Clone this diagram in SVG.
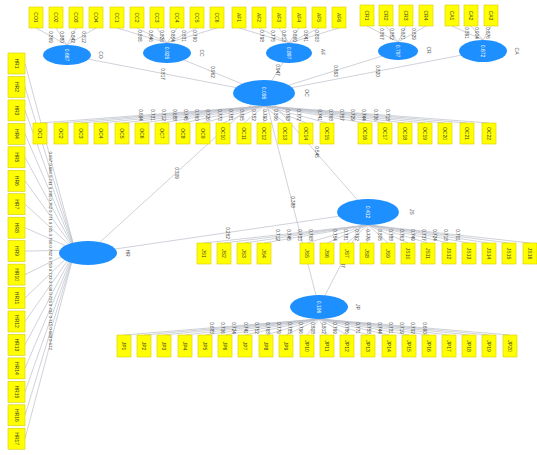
<svg xmlns="http://www.w3.org/2000/svg" width="537" height="455" viewBox="0 0 537 455">
<style>
  .ind{fill:#ffff00;stroke:#d9cc00;stroke-width:0.6}
  .lv{fill:#1e8fff}
  .it{font-family:"Liberation Sans",Arial,sans-serif;font-size:5px;fill:#3f3f30;text-anchor:middle;dominant-baseline:central}
  .lw{font-family:"Liberation Sans",Arial,sans-serif;font-size:5px;fill:#ffffff;text-anchor:middle;dominant-baseline:central}
  .nm{font-family:"Liberation Sans",Arial,sans-serif;font-size:5px;fill:#555555;text-anchor:middle;dominant-baseline:central}
  .ld{font-family:"Liberation Sans",Arial,sans-serif;font-size:4.6px;fill:#3a3a3a;text-anchor:middle;dominant-baseline:central}
  .ld .hr{font-size:4.3px}
  .cn line{stroke:#babec8;stroke-width:0.7;fill:none}
</style>
<rect width="537" height="455" fill="#ffffff"/>

<!-- connectors: outer loadings and path coefficients -->
<g id="connectors" class="cn">
  <!-- CO indicators -->
  <line x1="36" y1="28" x2="67" y2="45"/><line x1="56" y1="28" x2="67" y2="45"/><line x1="76" y1="28" x2="67" y2="45"/><line x1="96" y1="28" x2="67" y2="45"/>
  <!-- CC indicators -->
  <line x1="117" y1="28" x2="167" y2="43"/><line x1="137" y1="28" x2="167" y2="43"/><line x1="157" y1="28" x2="167" y2="43"/><line x1="177" y1="28" x2="167" y2="43"/><line x1="197" y1="28" x2="167" y2="43"/><line x1="217" y1="28" x2="167" y2="43"/>
  <!-- AF indicators -->
  <line x1="239" y1="28" x2="289" y2="43"/><line x1="259" y1="28" x2="289" y2="43"/><line x1="279" y1="28" x2="289" y2="43"/><line x1="299" y1="28" x2="289" y2="43"/><line x1="319" y1="28" x2="289" y2="43"/><line x1="339" y1="28" x2="289" y2="43"/>
  <!-- CR indicators -->
  <line x1="367" y1="26" x2="398" y2="42"/><line x1="386" y1="26" x2="398" y2="42"/><line x1="406" y1="26" x2="398" y2="42"/><line x1="426" y1="26" x2="398" y2="42"/>
  <!-- CA indicators -->
  <line x1="452" y1="26" x2="483" y2="40"/><line x1="471" y1="26" x2="483" y2="40"/><line x1="491" y1="26" x2="483" y2="40"/>
  <!-- OC indicators -->
  <line x1="40" y1="123" x2="264" y2="106"/><line x1="61" y1="123" x2="264" y2="106"/><line x1="81" y1="123" x2="264" y2="106"/><line x1="101" y1="123" x2="264" y2="106"/><line x1="122" y1="123" x2="264" y2="106"/><line x1="142" y1="123" x2="264" y2="106"/><line x1="162" y1="123" x2="264" y2="106"/><line x1="183" y1="123" x2="264" y2="106"/><line x1="203" y1="123" x2="264" y2="106"/><line x1="223" y1="123" x2="264" y2="106"/><line x1="244" y1="123" x2="264" y2="106"/><line x1="264" y1="123" x2="264" y2="106"/><line x1="285" y1="123" x2="264" y2="106"/><line x1="306" y1="123" x2="264" y2="106"/><line x1="327" y1="123" x2="264" y2="106"/><line x1="365" y1="123" x2="264" y2="106"/><line x1="385" y1="123" x2="264" y2="106"/><line x1="405" y1="123" x2="264" y2="106"/><line x1="425" y1="123" x2="264" y2="106"/><line x1="445" y1="123" x2="264" y2="106"/><line x1="467" y1="123" x2="264" y2="106"/><line x1="489" y1="123" x2="264" y2="106"/>
  <!-- HR indicators -->
  <line x1="25" y1="63.5" x2="75" y2="250"/><line x1="25" y1="87" x2="75" y2="250"/><line x1="25" y1="110.4" x2="75" y2="250"/><line x1="25" y1="133.9" x2="75" y2="250"/><line x1="25" y1="157.3" x2="75" y2="250"/><line x1="25" y1="180.8" x2="75" y2="250"/><line x1="25" y1="204.2" x2="75" y2="250"/><line x1="25" y1="227.7" x2="75" y2="250"/><line x1="25" y1="251.1" x2="75" y2="250"/><line x1="25" y1="274.6" x2="75" y2="250"/><line x1="25" y1="298" x2="75" y2="250"/><line x1="25" y1="321.5" x2="75" y2="250"/><line x1="25" y1="344.9" x2="75" y2="250"/><line x1="25" y1="368.4" x2="75" y2="250"/><line x1="25" y1="391.8" x2="75" y2="250"/><line x1="25" y1="415.3" x2="75" y2="250"/><line x1="25" y1="438.7" x2="75" y2="250"/>
  <!-- JS indicators -->
  <line x1="204" y1="243" x2="368" y2="225"/><line x1="224" y1="243" x2="368" y2="225"/><line x1="244" y1="243" x2="368" y2="225"/><line x1="264" y1="243" x2="368" y2="225"/><line x1="307" y1="243" x2="368" y2="225"/><line x1="327" y1="243" x2="368" y2="225"/><line x1="347" y1="243" x2="368" y2="225"/><line x1="367" y1="243" x2="368" y2="225"/><line x1="388" y1="243" x2="368" y2="225"/><line x1="408" y1="243" x2="368" y2="225"/><line x1="428" y1="243" x2="368" y2="225"/><line x1="449" y1="243" x2="368" y2="225"/><line x1="469" y1="243" x2="368" y2="225"/><line x1="489" y1="243" x2="368" y2="225"/><line x1="509" y1="243" x2="368" y2="225"/><line x1="530" y1="243" x2="368" y2="225"/>
  <!-- JP indicators -->
  <line x1="124" y1="335" x2="319" y2="319"/><line x1="144" y1="335" x2="319" y2="319"/><line x1="164" y1="335" x2="319" y2="319"/><line x1="185" y1="335" x2="319" y2="319"/><line x1="205" y1="335" x2="319" y2="319"/><line x1="225" y1="335" x2="319" y2="319"/><line x1="245" y1="335" x2="319" y2="319"/><line x1="266" y1="335" x2="319" y2="319"/><line x1="286" y1="335" x2="319" y2="319"/><line x1="307" y1="335" x2="319" y2="319"/><line x1="327" y1="335" x2="319" y2="319"/><line x1="347" y1="335" x2="319" y2="319"/><line x1="368" y1="335" x2="319" y2="319"/><line x1="389" y1="335" x2="319" y2="319"/><line x1="409" y1="335" x2="319" y2="319"/><line x1="429" y1="335" x2="319" y2="319"/><line x1="449" y1="335" x2="319" y2="319"/><line x1="469" y1="335" x2="319" y2="319"/><line x1="489" y1="335" x2="319" y2="319"/><line x1="510" y1="335" x2="319" y2="319"/>
  <!-- structural paths -->
  <line x1="67" y1="55" x2="264" y2="93"/><line x1="167" y1="53" x2="264" y2="93"/><line x1="289" y1="53" x2="264" y2="93"/><line x1="398" y1="51" x2="264" y2="93"/><line x1="483" y1="51" x2="264" y2="93"/>
  <line x1="88" y1="253" x2="264" y2="93"/><line x1="88" y1="253" x2="368" y2="212"/><line x1="264" y1="93" x2="368" y2="212"/><line x1="264" y1="93" x2="319" y2="307"/><line x1="368" y1="212" x2="319" y2="307"/>

  <!-- loading and coefficient values -->
  <g class="ld">
    <text transform="translate(50 37) rotate(90)">0.869</text><text transform="translate(61 37) rotate(90)">0.880</text><text transform="translate(72 37) rotate(90)">0.842</text><text transform="translate(83 37) rotate(90)">0.812</text>
    <text transform="translate(139.5 36) rotate(90)">0.805</text><text transform="translate(150.5 36) rotate(90)">0.846</text><text transform="translate(161.5 36) rotate(90)">0.826</text><text transform="translate(172.5 36) rotate(90)">0.854</text><text transform="translate(183.5 36) rotate(90)">0.831</text><text transform="translate(194.5 36) rotate(90)">0.790</text>
    <text transform="translate(261.5 36) rotate(90)">0.798</text><text transform="translate(272.5 36) rotate(90)">0.775</text><text transform="translate(283.5 36) rotate(90)">0.813</text><text transform="translate(294.5 36) rotate(90)">0.860</text><text transform="translate(305.5 36) rotate(90)">0.841</text><text transform="translate(316.5 36) rotate(90)">0.803</text>
    <text transform="translate(381 34) rotate(90)">0.867</text><text transform="translate(391.4 34) rotate(90)">0.852</text><text transform="translate(402.4 34) rotate(90)">0.871</text><text transform="translate(413.4 34) rotate(90)">0.829</text>
    <text transform="translate(466 33) rotate(90)">0.891</text><text transform="translate(476.6 33) rotate(90)">0.904</text><text transform="translate(487.4 33) rotate(90)">0.876</text>

    <text transform="translate(140.8 115) rotate(90)">0.694</text><text transform="translate(152.4 115) rotate(90)">0.731</text><text transform="translate(163.4 115) rotate(90)">0.712</text><text transform="translate(174.4 115) rotate(90)">0.688</text><text transform="translate(185.9 115) rotate(90)">0.745</text><text transform="translate(196.9 115) rotate(90)">0.760</text><text transform="translate(207.9 115) rotate(90)">0.726</text><text transform="translate(219.5 115) rotate(90)">0.773</text><text transform="translate(230.5 115) rotate(90)">0.781</text><text transform="translate(241.5 115) rotate(90)">0.765</text><text transform="translate(253 115) rotate(90)">0.752</text><text transform="translate(264 115) rotate(90)">0.790</text><text transform="translate(275.6 115) rotate(90)">0.806</text><text transform="translate(287.1 115) rotate(90)">0.798</text><text transform="translate(298.7 115) rotate(90)">0.772</text><text transform="translate(319.6 115) rotate(90)">0.741</text><text transform="translate(330.6 115) rotate(90)">0.768</text><text transform="translate(341.6 115) rotate(90)">0.757</text><text transform="translate(352.6 115) rotate(90)">0.729</text><text transform="translate(363.6 115) rotate(90)">0.744</text><text transform="translate(375.7 115) rotate(90)">0.736</text><text transform="translate(387.8 115) rotate(90)">0.718</text>

    <text class="hr" transform="translate(50 156.8) rotate(90)">0.657</text><text class="hr" transform="translate(50 168.5) rotate(90)">0.694</text><text class="hr" transform="translate(50 180.2) rotate(90)">0.711</text><text class="hr" transform="translate(50 192) rotate(90)">0.736</text><text class="hr" transform="translate(50 203.7) rotate(90)">0.752</text><text class="hr" transform="translate(50 215.4) rotate(90)">0.771</text><text class="hr" transform="translate(50 227.1) rotate(90)">0.745</text><text class="hr" transform="translate(50 238.9) rotate(90)">0.768</text><text class="hr" transform="translate(50 250.6) rotate(90)">0.782</text><text class="hr" transform="translate(50 262.3) rotate(90)">0.759</text><text class="hr" transform="translate(50 274) rotate(90)">0.733</text><text class="hr" transform="translate(50 285.8) rotate(90)">0.748</text><text class="hr" transform="translate(50 297.5) rotate(90)">0.726</text><text class="hr" transform="translate(50 309.2) rotate(90)">0.704</text><text class="hr" transform="translate(50 320.9) rotate(90)">0.715</text><text class="hr" transform="translate(50 332.7) rotate(90)">0.689</text><text class="hr" transform="translate(50 344.4) rotate(90)">0.672</text>

    <text transform="translate(277.8 235) rotate(90)">0.712</text><text transform="translate(288.8 235) rotate(90)">0.745</text><text transform="translate(299.8 235) rotate(90)">0.733</text><text transform="translate(310.8 235) rotate(90)">0.768</text><text transform="translate(334.5 235) rotate(90)">0.754</text><text transform="translate(345.5 235) rotate(90)">0.781</text><text transform="translate(356.5 235) rotate(90)">0.792</text><text transform="translate(367.5 235) rotate(90)">0.776</text><text transform="translate(379 235) rotate(90)">0.805</text><text transform="translate(390 235) rotate(90)">0.788</text><text transform="translate(401 235) rotate(90)">0.763</text><text transform="translate(412.5 235) rotate(90)">0.749</text><text transform="translate(423.5 235) rotate(90)">0.737</text><text transform="translate(434.5 235) rotate(90)">0.724</text><text transform="translate(445.5 235) rotate(90)">0.718</text><text transform="translate(457 235) rotate(90)">0.701</text>

    <text transform="translate(211.8 328) rotate(90)">0.683</text><text transform="translate(222.8 328) rotate(90)">0.706</text><text transform="translate(233.8 328) rotate(90)">0.724</text><text transform="translate(245.3 328) rotate(90)">0.741</text><text transform="translate(256.3 328) rotate(90)">0.752</text><text transform="translate(267.3 328) rotate(90)">0.768</text><text transform="translate(278.3 328) rotate(90)">0.779</text><text transform="translate(289.9 328) rotate(90)">0.785</text><text transform="translate(300.9 328) rotate(90)">0.796</text><text transform="translate(312.4 328) rotate(90)">0.808</text><text transform="translate(323.4 328) rotate(90)">0.812</text><text transform="translate(334.4 328) rotate(90)">0.799</text><text transform="translate(346 328) rotate(90)">0.786</text><text transform="translate(357.5 328) rotate(90)">0.771</text><text transform="translate(368.5 328) rotate(90)">0.758</text><text transform="translate(379.5 328) rotate(90)">0.744</text><text transform="translate(390.5 328) rotate(90)">0.731</text><text transform="translate(401.5 328) rotate(90)">0.719</text><text transform="translate(412.5 328) rotate(90)">0.702</text><text transform="translate(424 328) rotate(90)">0.690</text>

    <text transform="translate(162 74) rotate(90)">0.817</text><text transform="translate(212 72) rotate(90)">0.962</text><text transform="translate(277 70) rotate(90)">0.947</text><text transform="translate(335 71) rotate(90)">0.893</text><text transform="translate(377 71) rotate(90)">0.820</text>
    <text transform="translate(176 173) rotate(90)">0.309</text><text transform="translate(227 233) rotate(90)">0.262</text><text transform="translate(316 152) rotate(90)">0.545</text><text transform="translate(292 202) rotate(90)">0.388</text><text transform="translate(342 262) rotate(90)">0.047</text>
  </g>
</g>

<!-- latent variables -->
<g id="CO"><ellipse class="lv" cx="67" cy="55" rx="24" ry="10"/><text class="lw" transform="translate(67 55) rotate(90)">0.667</text><text class="nm" transform="translate(101 55) rotate(90)">CO</text></g>
<g id="CC"><ellipse class="lv" cx="167" cy="53" rx="24" ry="10"/><text class="lw" transform="translate(167 53) rotate(90)">0.925</text><text class="nm" transform="translate(202 53) rotate(90)">CC</text></g>
<g id="AF"><ellipse class="lv" cx="289" cy="53" rx="23" ry="10"/><text class="lw" transform="translate(289 53) rotate(90)">0.897</text><text class="nm" transform="translate(323 52) rotate(90)">AF</text></g>
<g id="CR"><ellipse class="lv" cx="398" cy="51" rx="20" ry="9"/><text class="lw" transform="translate(398 51) rotate(90)">0.797</text><text class="nm" transform="translate(429 50) rotate(90)">CR</text></g>
<g id="CA"><ellipse class="lv" cx="483" cy="51" rx="24" ry="11"/><text class="lw" transform="translate(483 51) rotate(90)">0.672</text><text class="nm" transform="translate(517 51) rotate(90)">CA</text></g>
<g id="OC"><ellipse class="lv" cx="264" cy="93" rx="31" ry="13"/><text class="lw" transform="translate(264 93) rotate(90)">0.095</text><text class="nm" transform="translate(307 93) rotate(90)">OC</text></g>
<g id="HR"><ellipse class="lv" cx="88" cy="253" rx="29" ry="12"/><text class="nm" transform="translate(128 253) rotate(90)">HR</text></g>
<g id="JS"><ellipse class="lv" cx="368" cy="212" rx="31" ry="13"/><text class="lw" transform="translate(368 212) rotate(90)">0.412</text><text class="nm" transform="translate(412 212) rotate(90)">JS</text></g>
<g id="JP"><ellipse class="lv" cx="319" cy="307" rx="29" ry="12"/><text class="lw" transform="translate(319 307) rotate(90)">0.196</text><text class="nm" transform="translate(358 307) rotate(90)">JP</text></g>

<!-- indicators: top row -->
<g id="CO1"><rect class="ind" x="29" y="7" width="14" height="21"/><text class="it" transform="translate(36 17.5) rotate(90)">CO1</text></g>
<g id="CO2"><rect class="ind" x="49" y="7" width="14" height="21"/><text class="it" transform="translate(56 17.5) rotate(90)">CO2</text></g>
<g id="CO3"><rect class="ind" x="69" y="7" width="14" height="21"/><text class="it" transform="translate(76 17.5) rotate(90)">CO3</text></g>
<g id="CO4"><rect class="ind" x="89" y="7" width="14" height="21"/><text class="it" transform="translate(96 17.5) rotate(90)">CO4</text></g>
<g id="CC1"><rect class="ind" x="110" y="7" width="14" height="21"/><text class="it" transform="translate(117 17.5) rotate(90)">CC1</text></g>
<g id="CC2"><rect class="ind" x="130" y="7" width="14" height="21"/><text class="it" transform="translate(137 17.5) rotate(90)">CC2</text></g>
<g id="CC3"><rect class="ind" x="150" y="7" width="14" height="21"/><text class="it" transform="translate(157 17.5) rotate(90)">CC3</text></g>
<g id="CC4"><rect class="ind" x="170" y="7" width="14" height="21"/><text class="it" transform="translate(177 17.5) rotate(90)">CC4</text></g>
<g id="CC5"><rect class="ind" x="190" y="7" width="14" height="21"/><text class="it" transform="translate(197 17.5) rotate(90)">CC5</text></g>
<g id="CC6"><rect class="ind" x="210" y="7" width="14" height="21"/><text class="it" transform="translate(217 17.5) rotate(90)">CC6</text></g>
<g id="AF1"><rect class="ind" x="232" y="7" width="14" height="21"/><text class="it" transform="translate(239 17.5) rotate(90)">AF1</text></g>
<g id="AF2"><rect class="ind" x="252" y="7" width="14" height="21"/><text class="it" transform="translate(259 17.5) rotate(90)">AF2</text></g>
<g id="AF3"><rect class="ind" x="272" y="7" width="14" height="21"/><text class="it" transform="translate(279 17.5) rotate(90)">AF3</text></g>
<g id="AF4"><rect class="ind" x="292" y="7" width="14" height="21"/><text class="it" transform="translate(299 17.5) rotate(90)">AF4</text></g>
<g id="AF5"><rect class="ind" x="312" y="7" width="14" height="21"/><text class="it" transform="translate(319 17.5) rotate(90)">AF5</text></g>
<g id="AF6"><rect class="ind" x="332" y="7" width="14" height="21"/><text class="it" transform="translate(339 17.5) rotate(90)">AF6</text></g>
<g id="CR1"><rect class="ind" x="360" y="5" width="14" height="21"/><text class="it" transform="translate(367 15.5) rotate(90)">CR1</text></g>
<g id="CR2"><rect class="ind" x="379" y="5" width="14" height="21"/><text class="it" transform="translate(386 15.5) rotate(90)">CR2</text></g>
<g id="CR3"><rect class="ind" x="399" y="5" width="14" height="21"/><text class="it" transform="translate(406 15.5) rotate(90)">CR3</text></g>
<g id="CR4"><rect class="ind" x="419" y="5" width="14" height="21"/><text class="it" transform="translate(426 15.5) rotate(90)">CR4</text></g>
<g id="CA1"><rect class="ind" x="445" y="5" width="14" height="21"/><text class="it" transform="translate(452 15.5) rotate(90)">CA1</text></g>
<g id="CA2"><rect class="ind" x="464" y="5" width="14" height="21"/><text class="it" transform="translate(471 15.5) rotate(90)">CA2</text></g>
<g id="CA3"><rect class="ind" x="484" y="5" width="14" height="21"/><text class="it" transform="translate(491 15.5) rotate(90)">CA3</text></g>

<!-- indicators: OC row -->
<g id="OC1"><rect class="ind" x="33" y="123" width="14" height="21"/><text class="it" transform="translate(40 133.5) rotate(90)">OC1</text></g>
<g id="OC2"><rect class="ind" x="54" y="123" width="14" height="21"/><text class="it" transform="translate(61 133.5) rotate(90)">OC2</text></g>
<g id="OC3"><rect class="ind" x="74" y="123" width="14" height="21"/><text class="it" transform="translate(81 133.5) rotate(90)">OC3</text></g>
<g id="OC4"><rect class="ind" x="94" y="123" width="14" height="21"/><text class="it" transform="translate(101 133.5) rotate(90)">OC4</text></g>
<g id="OC5"><rect class="ind" x="115" y="123" width="14" height="21"/><text class="it" transform="translate(122 133.5) rotate(90)">OC5</text></g>
<g id="OC6"><rect class="ind" x="135" y="123" width="14" height="21"/><text class="it" transform="translate(142 133.5) rotate(90)">OC6</text></g>
<g id="OC7"><rect class="ind" x="155" y="123" width="14" height="21"/><text class="it" transform="translate(162 133.5) rotate(90)">OC7</text></g>
<g id="OC8"><rect class="ind" x="176" y="123" width="14" height="21"/><text class="it" transform="translate(183 133.5) rotate(90)">OC8</text></g>
<g id="OC9"><rect class="ind" x="196" y="123" width="14" height="21"/><text class="it" transform="translate(203 133.5) rotate(90)">OC9</text></g>
<g id="OC10"><rect class="ind" x="216" y="123" width="14" height="21"/><text class="it" transform="translate(223 133.5) rotate(90)">OC10</text></g>
<g id="OC11"><rect class="ind" x="237" y="123" width="14" height="21"/><text class="it" transform="translate(244 133.5) rotate(90)">OC11</text></g>
<g id="OC12"><rect class="ind" x="257" y="123" width="14" height="21"/><text class="it" transform="translate(264 133.5) rotate(90)">OC12</text></g>
<g id="OC13"><rect class="ind" x="278" y="123" width="14" height="21"/><text class="it" transform="translate(285 133.5) rotate(90)">OC13</text></g>
<g id="OC14"><rect class="ind" x="299" y="123" width="14" height="21"/><text class="it" transform="translate(306 133.5) rotate(90)">OC14</text></g>
<g id="OC15"><rect class="ind" x="320" y="123" width="14" height="21"/><text class="it" transform="translate(327 133.5) rotate(90)">OC15</text></g>
<g id="OC16"><rect class="ind" x="358" y="123" width="14" height="21"/><text class="it" transform="translate(365 133.5) rotate(90)">OC16</text></g>
<g id="OC17"><rect class="ind" x="378" y="123" width="14" height="21"/><text class="it" transform="translate(385 133.5) rotate(90)">OC17</text></g>
<g id="OC18"><rect class="ind" x="398" y="123" width="14" height="21"/><text class="it" transform="translate(405 133.5) rotate(90)">OC18</text></g>
<g id="OC19"><rect class="ind" x="418" y="123" width="14" height="21"/><text class="it" transform="translate(425 133.5) rotate(90)">OC19</text></g>
<g id="OC20"><rect class="ind" x="438" y="123" width="14" height="21"/><text class="it" transform="translate(445 133.5) rotate(90)">OC20</text></g>
<g id="OC21"><rect class="ind" x="460" y="123" width="14" height="21"/><text class="it" transform="translate(467 133.5) rotate(90)">OC21</text></g>
<g id="OC22"><rect class="ind" x="482" y="123" width="14" height="21"/><text class="it" transform="translate(489 133.5) rotate(90)">OC22</text></g>

<!-- indicators: HR column -->
<g id="HR1"><rect class="ind" x="8" y="53" width="17" height="21"/><text class="it" transform="translate(16.5 63.5) rotate(90)">HR1</text></g>
<g id="HR2"><rect class="ind" x="8" y="76.5" width="17" height="21"/><text class="it" transform="translate(16.5 87) rotate(90)">HR2</text></g>
<g id="HR3"><rect class="ind" x="8" y="99.9" width="17" height="21"/><text class="it" transform="translate(16.5 110.4) rotate(90)">HR3</text></g>
<g id="HR4"><rect class="ind" x="8" y="123.4" width="17" height="21"/><text class="it" transform="translate(16.5 133.9) rotate(90)">HR4</text></g>
<g id="HR5"><rect class="ind" x="8" y="146.8" width="17" height="21"/><text class="it" transform="translate(16.5 157.3) rotate(90)">HR5</text></g>
<g id="HR6"><rect class="ind" x="8" y="170.3" width="17" height="21"/><text class="it" transform="translate(16.5 180.8) rotate(90)">HR6</text></g>
<g id="HR7"><rect class="ind" x="8" y="193.7" width="17" height="21"/><text class="it" transform="translate(16.5 204.2) rotate(90)">HR7</text></g>
<g id="HR8"><rect class="ind" x="8" y="217.2" width="17" height="21"/><text class="it" transform="translate(16.5 227.7) rotate(90)">HR8</text></g>
<g id="HR9"><rect class="ind" x="8" y="240.6" width="17" height="21"/><text class="it" transform="translate(16.5 251.1) rotate(90)">HR9</text></g>
<g id="HR10"><rect class="ind" x="8" y="264.1" width="17" height="21"/><text class="it" transform="translate(16.5 274.6) rotate(90)">HR10</text></g>
<g id="HR11"><rect class="ind" x="8" y="287.5" width="17" height="21"/><text class="it" transform="translate(16.5 298) rotate(90)">HR11</text></g>
<g id="HR12"><rect class="ind" x="8" y="311" width="17" height="21"/><text class="it" transform="translate(16.5 321.5) rotate(90)">HR12</text></g>
<g id="HR13"><rect class="ind" x="8" y="334.4" width="17" height="21"/><text class="it" transform="translate(16.5 344.9) rotate(90)">HR13</text></g>
<g id="HR14"><rect class="ind" x="8" y="357.9" width="17" height="21"/><text class="it" transform="translate(16.5 368.4) rotate(90)">HR14</text></g>
<g id="HR15"><rect class="ind" x="8" y="381.3" width="17" height="21"/><text class="it" transform="translate(16.5 391.8) rotate(90)">HR15</text></g>
<g id="HR16"><rect class="ind" x="8" y="404.8" width="17" height="21"/><text class="it" transform="translate(16.5 415.3) rotate(90)">HR16</text></g>
<g id="HR17"><rect class="ind" x="8" y="428.2" width="17" height="21"/><text class="it" transform="translate(16.5 438.7) rotate(90)">HR17</text></g>

<!-- indicators: JS row -->
<g id="JS1"><rect class="ind" x="197" y="243" width="14" height="21"/><text class="it" transform="translate(204 253.5) rotate(90)">JS1</text></g>
<g id="JS2"><rect class="ind" x="217" y="243" width="14" height="21"/><text class="it" transform="translate(224 253.5) rotate(90)">JS2</text></g>
<g id="JS3"><rect class="ind" x="237" y="243" width="14" height="21"/><text class="it" transform="translate(244 253.5) rotate(90)">JS3</text></g>
<g id="JS4"><rect class="ind" x="257" y="243" width="14" height="21"/><text class="it" transform="translate(264 253.5) rotate(90)">JS4</text></g>
<g id="JS5"><rect class="ind" x="300" y="243" width="14" height="21"/><text class="it" transform="translate(307 253.5) rotate(90)">JS5</text></g>
<g id="JS6"><rect class="ind" x="320" y="243" width="14" height="21"/><text class="it" transform="translate(327 253.5) rotate(90)">JS6</text></g>
<g id="JS7"><rect class="ind" x="340" y="243" width="14" height="21"/><text class="it" transform="translate(347 253.5) rotate(90)">JS7</text></g>
<g id="JS8"><rect class="ind" x="360" y="243" width="14" height="21"/><text class="it" transform="translate(367 253.5) rotate(90)">JS8</text></g>
<g id="JS9"><rect class="ind" x="381" y="243" width="14" height="21"/><text class="it" transform="translate(388 253.5) rotate(90)">JS9</text></g>
<g id="JS10"><rect class="ind" x="401" y="243" width="14" height="21"/><text class="it" transform="translate(408 253.5) rotate(90)">JS10</text></g>
<g id="JS11"><rect class="ind" x="421" y="243" width="14" height="21"/><text class="it" transform="translate(428 253.5) rotate(90)">JS11</text></g>
<g id="JS12"><rect class="ind" x="442" y="243" width="14" height="21"/><text class="it" transform="translate(449 253.5) rotate(90)">JS12</text></g>
<g id="JS13"><rect class="ind" x="462" y="243" width="14" height="21"/><text class="it" transform="translate(469 253.5) rotate(90)">JS13</text></g>
<g id="JS14"><rect class="ind" x="482" y="243" width="14" height="21"/><text class="it" transform="translate(489 253.5) rotate(90)">JS14</text></g>
<g id="JS15"><rect class="ind" x="502" y="243" width="14" height="21"/><text class="it" transform="translate(509 253.5) rotate(90)">JS15</text></g>
<g id="JS16"><rect class="ind" x="523" y="243" width="14" height="21"/><text class="it" transform="translate(530 253.5) rotate(90)">JS16</text></g>

<!-- indicators: JP row -->
<g id="JP1"><rect class="ind" x="117" y="335" width="14" height="22"/><text class="it" transform="translate(124 346) rotate(90)">JP1</text></g>
<g id="JP2"><rect class="ind" x="137" y="335" width="14" height="22"/><text class="it" transform="translate(144 346) rotate(90)">JP2</text></g>
<g id="JP3"><rect class="ind" x="157" y="335" width="14" height="22"/><text class="it" transform="translate(164 346) rotate(90)">JP3</text></g>
<g id="JP4"><rect class="ind" x="178" y="335" width="14" height="22"/><text class="it" transform="translate(185 346) rotate(90)">JP4</text></g>
<g id="JP5"><rect class="ind" x="198" y="335" width="14" height="22"/><text class="it" transform="translate(205 346) rotate(90)">JP5</text></g>
<g id="JP6"><rect class="ind" x="218" y="335" width="14" height="22"/><text class="it" transform="translate(225 346) rotate(90)">JP6</text></g>
<g id="JP7"><rect class="ind" x="238" y="335" width="14" height="22"/><text class="it" transform="translate(245 346) rotate(90)">JP7</text></g>
<g id="JP8"><rect class="ind" x="259" y="335" width="14" height="22"/><text class="it" transform="translate(266 346) rotate(90)">JP8</text></g>
<g id="JP9"><rect class="ind" x="279" y="335" width="14" height="22"/><text class="it" transform="translate(286 346) rotate(90)">JP9</text></g>
<g id="JP10"><rect class="ind" x="300" y="335" width="14" height="22"/><text class="it" transform="translate(307 346) rotate(90)">JP10</text></g>
<g id="JP11"><rect class="ind" x="320" y="335" width="14" height="22"/><text class="it" transform="translate(327 346) rotate(90)">JP11</text></g>
<g id="JP12"><rect class="ind" x="340" y="335" width="14" height="22"/><text class="it" transform="translate(347 346) rotate(90)">JP12</text></g>
<g id="JP13"><rect class="ind" x="361" y="335" width="14" height="22"/><text class="it" transform="translate(368 346) rotate(90)">JP13</text></g>
<g id="JP14"><rect class="ind" x="382" y="335" width="14" height="22"/><text class="it" transform="translate(389 346) rotate(90)">JP14</text></g>
<g id="JP15"><rect class="ind" x="402" y="335" width="14" height="22"/><text class="it" transform="translate(409 346) rotate(90)">JP15</text></g>
<g id="JP16"><rect class="ind" x="422" y="335" width="14" height="22"/><text class="it" transform="translate(429 346) rotate(90)">JP16</text></g>
<g id="JP17"><rect class="ind" x="442" y="335" width="14" height="22"/><text class="it" transform="translate(449 346) rotate(90)">JP17</text></g>
<g id="JP18"><rect class="ind" x="462" y="335" width="14" height="22"/><text class="it" transform="translate(469 346) rotate(90)">JP18</text></g>
<g id="JP19"><rect class="ind" x="482" y="335" width="14" height="22"/><text class="it" transform="translate(489 346) rotate(90)">JP19</text></g>
<g id="JP20"><rect class="ind" x="503" y="335" width="14" height="22"/><text class="it" transform="translate(510 346) rotate(90)">JP20</text></g>
</svg>
